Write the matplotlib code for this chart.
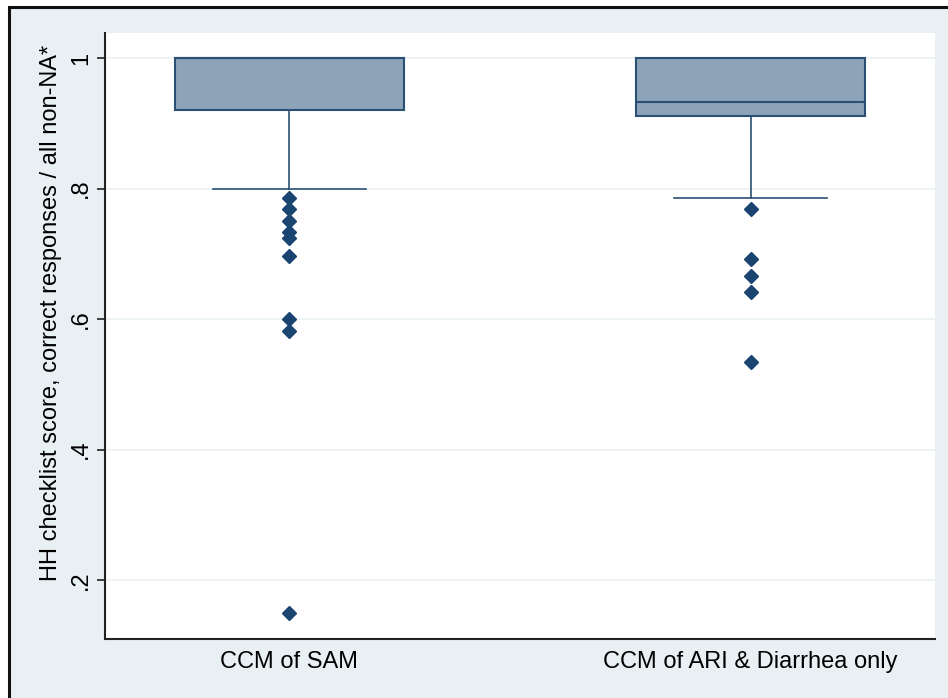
import matplotlib
matplotlib.use("Agg")
import matplotlib.pyplot as plt
from matplotlib.patches import Rectangle

categories = ["CCM of SAM", "CCM of ARI & Diarrhea only"]
q1 = [0.92, 0.911]
median = [1.0, 0.932]
q3 = [1.0, 1.0]
whisker_low = [0.80, 0.785]
whisker_high = [1.0, 1.0]
outliers_sam = [0.786, 0.768, 0.750, 0.733, 0.724, 0.697, 0.600, 0.582, 0.150]
outliers_ari = [0.768, 0.692, 0.666, 0.642, 0.535]
outliers = [outliers_sam, outliers_ari]
yticks = [0.2, 0.4, 0.6, 0.8, 1.0]
ytick_labels = [".2", ".4", ".6", ".8", "1"]
ylabel = "HH checklist score, correct responses / all non-NA*"

plt.rcParams['font.family'] = ['Liberation Sans', 'DejaVu Sans']

W, H = 948, 698
fig = plt.figure(figsize=(W / 100, H / 100), dpi=100)
fig.patch.set_facecolor("white")

# outer framed panel (right and bottom edges run off the image)
bg = "#e8f0f3"
fig.patches.append(Rectangle((8.5 / W, -0.2), 1.2, (H - 7) / H + 0.2, transform=fig.transFigure,
                             facecolor=bg, edgecolor="#111111", linewidth=2.2, zorder=-5))

ax = fig.add_axes([105 / W, (H - 639) / H, (935 - 105) / W, (639 - 33) / H])
ax.set_zorder(1)
ax.set_facecolor("white")

stats = []
for i in range(len(categories)):
    stats.append(dict(med=median[i], q1=q1[i], q3=q3[i],
                      whislo=whisker_low[i], whishi=whisker_high[i],
                      fliers=outliers[i], label=categories[i]))

box_face = "#8da3b8"
edge = "#2a5074"
ax.bxp(stats, positions=[1, 2], widths=0.495, patch_artist=True, showcaps=True,
       boxprops=dict(facecolor=box_face, edgecolor=edge, linewidth=1.5),
       medianprops=dict(color=edge, linewidth=1.5),
       whiskerprops=dict(color=edge, linewidth=1.2),
       capprops=dict(color=edge, linewidth=1.2),
       capwidths=0.333,
       flierprops=dict(marker="D", markersize=7.5, markerfacecolor="#1a4570",
                       markeredgecolor="#1a4570", linestyle="none"))

fs = 17
ax.set_xlim(0.6, 2.4)
ax.set_ylim(0.110, 1.0383)
ax.set_yticks(yticks)
ax.set_yticklabels(ytick_labels, rotation=90, va="center", fontsize=fs)
ax.set_xticks([1, 2])
ax.set_xticklabels(categories, fontsize=fs)
ax.tick_params(axis="x", length=0, pad=8.5)
ax.tick_params(axis="y", length=6, width=1.2, color="#222222", pad=3.5)
ax.set_ylabel(ylabel, fontsize=fs)
ax.yaxis.set_label_coords(-0.052, 0.538)
ax.grid(axis="y", color="#eef3f6", linewidth=1.4)
ax.set_axisbelow(True)
for s in ["top", "right"]:
    ax.spines[s].set_visible(False)
for s in ["left", "bottom"]:
    ax.spines[s].set_color("#222222")
    ax.spines[s].set_linewidth(1.5)

fig.savefig("out.png", dpi=100)
